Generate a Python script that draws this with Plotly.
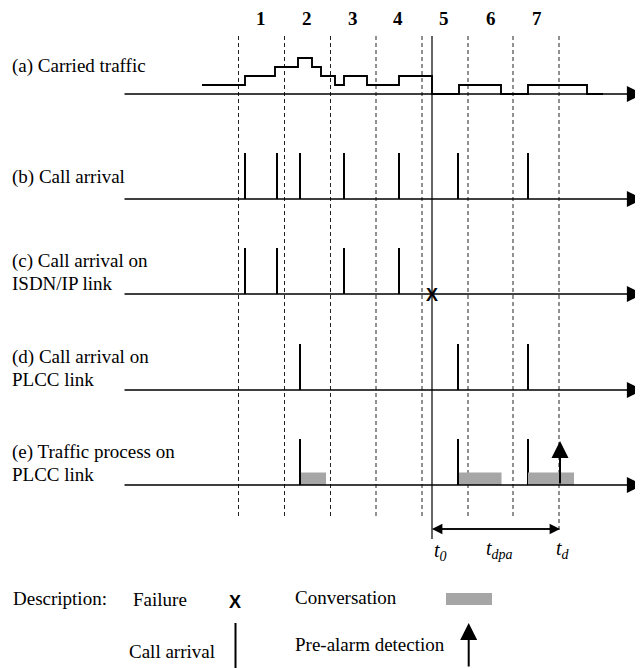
import plotly.graph_objects as go

# ---------------- data ----------------
period_labels = ["1", "2", "3", "4", "5", "6", "7"]
period_label_x = [261, 307, 353, 398, 444, 491, 537]
dashed_x = [238.5, 284.5, 330.5, 376, 422, 468, 513, 559]
t0 = 432
td = 560

row_names = [["(a) Carried traffic"],
             ["(b) Call arrival"],
             ["(c) Call arrival on", "ISDN/IP link"],
             ["(d) Call arrival on", "PLCC link"],
             ["(e) Traffic process on", "PLCC link"]]
row_base = [94, 199, 294, 390, 485]

traffic_x = [202, 245, 275, 298, 312, 321, 335, 344, 367, 399, 432, 459, 501, 528, 587, 603]
traffic_level = [1, 2, 3, 4, 3, 2, 1, 2, 1, 2, 0, 1, 0, 1, 0, 0]

calls_b = [245, 277, 300, 344, 399, 458, 528]
calls_c = [245, 277, 344, 399]
calls_d = [300, 458, 528]
calls_e = [300, 458, 528]
conv_start = [301, 459, 528]
conv_end = [326, 501.5, 574]

FONT = "Liberation Serif"
SANS = "Liberation Sans"
TXT = 19
AX0, AX1 = 123, 643
TICK_H = 46
LEVEL_H = 9
OFF = 8  # page body margin compensation

fig = go.Figure()

def line(xs, ys, width=1.3, dash=None, color="black"):
    fig.add_trace(go.Scatter(x=xs, y=ys, mode="lines", hoverinfo="skip",
                             line=dict(color=color, width=width, dash=dash),
                             showlegend=False))

# dashed period separators
for x in dashed_x:
    y1 = 533 if x == 559 else 517
    line([x, x], [36, y1], width=1, dash="4px,3px", color="#222")
# failure instant line
line([t0, t0], [36, 539], width=1.2)

# traffic step curve
ty = [row_base[0] - LEVEL_H * v for v in traffic_level]
fig.add_trace(go.Scatter(x=traffic_x, y=ty, mode="lines", line_shape="hv",
                         line=dict(color="black", width=1.9), hoverinfo="skip",
                         showlegend=False))

# call arrival ticks
for r, calls in zip([1, 2, 3, 4], [calls_b, calls_c, calls_d, calls_e]):
    xs, ys = [], []
    for c in calls:
        xs += [c, c, None]
        ys += [row_base[r], row_base[r] - TICK_H, None]
    line(xs, ys, width=2)

# conversations
for s, e in zip(conv_start, conv_end):
    b = row_base[4]
    fig.add_trace(go.Scatter(x=[s, e, e, s, s], y=[b, b, b - 12.5, b - 12.5, b],
                             mode="lines", fill="toself", fillcolor="#a6a6a6",
                             line=dict(width=0, color="#a6a6a6"),
                             hoverinfo="skip", showlegend=False))

# legend conversation box
fig.add_trace(go.Scatter(x=[446, 492, 492, 446, 446], y=[593, 593, 605, 605, 593],
                         mode="lines", fill="toself", fillcolor="#a6a6a6",
                         line=dict(width=0, color="#a6a6a6"),
                         hoverinfo="skip", showlegend=False))
# legend call arrival tick
line([235.5, 235.5], [623, 668], width=2)

ann = []
# axes with arrowheads
for b in row_base:
    ann.append(dict(x=AX1, y=b, ax=AX0, ay=b, xref="x", yref="y", axref="x", ayref="y",
                    showarrow=True, arrowhead=2, arrowsize=2.3, arrowwidth=1.4,
                    arrowcolor="black", text="", standoff=0))
# detection arrow
ann.append(dict(x=td, y=row_base[4] - 44, ax=td, ay=row_base[4], xref="x", yref="y",
                axref="x", ayref="y", showarrow=True, arrowhead=2, arrowsize=1.7,
                arrowwidth=2, arrowcolor="black", text="", standoff=0))
# legend detection arrow
ann.append(dict(x=468.7, y=623, ax=468.7, ay=668, xref="x", yref="y",
                axref="x", ayref="y", showarrow=True, arrowhead=2, arrowsize=1.7,
                arrowwidth=2, arrowcolor="black", text="", standoff=0))
# t_dpa double arrow
for a, b in [(t0, td), (td, t0)]:
    ann.append(dict(x=b, y=529, ax=a, ay=529, xref="x", yref="y", axref="x", ayref="y",
                    showarrow=True, arrowhead=2, arrowsize=1.6, arrowwidth=1.3,
                    arrowcolor="black", text="", standoff=0))

def text(x, y, s, size=TXT, family=FONT, xanchor="left"):
    ann.append(dict(x=x, y=y, xref="x", yref="y", text=s, showarrow=False,
                    xanchor=xanchor, yanchor="middle",
                    font=dict(family=family, size=size, color="black")))

for lx, lab in zip(period_label_x, period_labels):
    text(lx, 18, "<b>" + lab + "</b>", size=19, xanchor="center")

for r, names in enumerate(row_names):
    b = row_base[r]
    if len(names) == 1:
        text(10, b - 28 if r == 0 else b - 22, names[0])
    else:
        text(10, b - 33, names[0])
        text(10, b - 11, names[1])

# failure X on ISDN/IP
text(t0, row_base[2] + 1, "<b>X</b>", size=18, family=SANS, xanchor="center")

# time labels
text(440, 551, "<i>t<sub>0</sub></i>", size=20, xanchor="center")
text(499, 549, "<i>t<sub>dpa</sub></i>", size=20, xanchor="center")
text(563, 549, "<i>t<sub>d</sub></i>", size=20, xanchor="center")

# description legend
text(11, 598, "Description:")
text(131, 599, "Failure")
text(235, 602, "<b>X</b>", size=18, family=SANS, xanchor="center")
text(293, 597, "Conversation")
text(127, 651, "Call arrival")
text(293, 644, "Pre-alarm detection")

fig.update_layout(
    width=643 - OFF, height=668 - OFF, margin=dict(l=0, r=0, t=0, b=0),
    paper_bgcolor="white", plot_bgcolor="white",
    xaxis=dict(range=[OFF, 643], visible=False, fixedrange=True),
    yaxis=dict(range=[668, OFF], visible=False, fixedrange=True),
    annotations=ann, showlegend=False,
)
fig.write_html("out.html")
